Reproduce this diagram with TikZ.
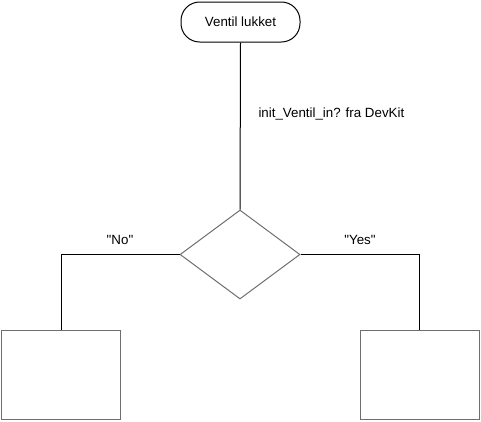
\documentclass[tikz,border=0pt]{standalone}
\usepackage{fontspec}
\setmainfont{Liberation Sans}
\usetikzlibrary{shapes.geometric}
\definecolor{boxgray}{RGB}{110,110,110}

\tikzset{every picture/.style={line width=0.75pt}}

\begin{document}
\begin{tikzpicture}[x=0.75pt,y=0.75pt,yscale=-1,xscale=1,
	font=\fontsize{10}{12}\selectfont,
	terminal/.style={draw=black, rounded corners=14pt, minimum width=89.25pt, minimum height=30pt, inner sep=0pt},
	decision/.style={draw=boxgray, diamond, minimum width=90pt, minimum height=66.75pt, inner sep=0pt},
	process/.style={draw=boxgray, rectangle, minimum width=89.25pt, minimum height=66.75pt, inner sep=0pt},
	flow/.style={draw=black}]
	\useasboundingbox (0,0) rectangle (481,421);

	%Shape: Terminal [id:start]
	\node [terminal] (start) at (240.5,22) {Ventil lukket};
	%Shape: Diamond [id:check]
	\node [decision] (check) at (240,254.5) {};
	%Shape: Rectangle [id:nobox]
	\node [process] (nobox) at (61,374.5) {};
	%Shape: Rectangle [id:yesbox]
	\node [process] (yesbox) at (419.5,374.5) {};

	%Straight Lines [id:start-check]
	\draw [flow] (start.south) -- (check.north) ;
	%Straight Lines [id:check-nobox]
	\draw [flow] (check.west) -| (nobox.north) ;
	%Straight Lines [id:check-yesbox]
	\draw [flow] (check.east) -| (yesbox.north) ;

	% Text Node
	\draw (257,114) node [anchor=west][inner sep=0.75pt] (cond) {init\_Ventil\_in? fra DevKit};
	% Text Node
	\draw (120,240) node [inner sep=0.75pt] (nolbl) {\textquotedbl No\textquotedbl};
	% Text Node
	\draw (360,240) node [inner sep=0.75pt] (yeslbl) {\textquotedbl Yes\textquotedbl};

\end{tikzpicture}
\end{document}
